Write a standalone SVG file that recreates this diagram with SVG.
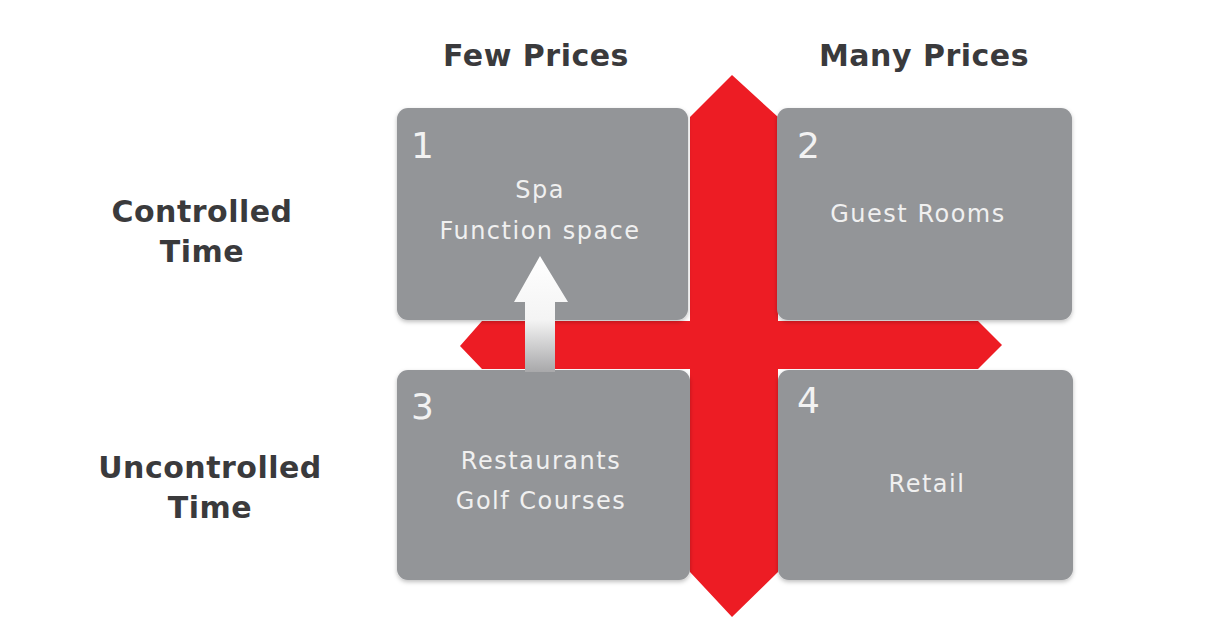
<svg xmlns="http://www.w3.org/2000/svg" width="1206" height="635" viewBox="0 0 1206 635">
<style>
.hdr{font-family:"DejaVu Sans",sans-serif;font-weight:bold;font-size:30px;letter-spacing:0.5px;fill:#3a3a3c;text-anchor:middle}
.box{fill:#939598}
.num{font-family:"DejaVu Sans",sans-serif;font-size:36px;fill:#f2f2f2}
.lbl{font-family:"DejaVu Sans",sans-serif;font-size:24px;letter-spacing:1.5px;fill:#f0f0f0;text-anchor:middle}
</style>
<defs>
<linearGradient id="wg" x1="0" y1="0" x2="0" y2="1">
<stop offset="0" stop-color="#ffffff"/>
<stop offset="0.55" stop-color="#f4f4f4"/>
<stop offset="1" stop-color="#a8a8aa"/>
</linearGradient>
<filter id="sh" x="-5%" y="-5%" width="110%" height="115%">
<feDropShadow dx="0" dy="2" stdDeviation="2" flood-color="#000" flood-opacity="0.25"/>
</filter>
</defs>
<rect width="1206" height="635" fill="#ffffff"/>
<g id="connectors">
<polygon id="cross" fill="#ed1c24" points="732,75 778,117 778,321 978,321 1002,345 978,369 778,369 778,572 732,617 690,572 690,369 482,369 460,346 482,321 690,321 690,117"/>
</g>
<g id="headers">
<text class="hdr" x="536" y="66">Few Prices</text>
<text class="hdr" x="924" y="66">Many Prices</text>
<text class="hdr" x="202" y="222">Controlled</text>
<text class="hdr" x="202" y="262">Time</text>
<text class="hdr" x="210" y="478">Uncontrolled</text>
<text class="hdr" x="210" y="518">Time</text>
</g>
<g id="node1">
<rect class="box" x="397" y="108" width="291" height="212" rx="11" filter="url(#sh)"/>
<text class="num" x="411" y="158">1</text>
<text class="lbl" x="540" y="198">Spa</text>
<text class="lbl" x="540" y="239">Function space</text>
</g>
<g id="node2">
<rect class="box" x="777" y="108" width="295" height="212" rx="11" filter="url(#sh)"/>
<text class="num" x="797" y="158">2</text>
<text class="lbl" x="918" y="222">Guest Rooms</text>
</g>
<g id="node3">
<rect class="box" x="397" y="370" width="293" height="210" rx="11" filter="url(#sh)"/>
<text class="num" x="411" y="419">3</text>
<text class="lbl" x="541" y="469">Restaurants</text>
<text class="lbl" x="541" y="509">Golf Courses</text>
</g>
<g id="node4">
<rect class="box" x="778" y="370" width="295" height="210" rx="11" filter="url(#sh)"/>
<text class="num" x="797" y="413">4</text>
<text class="lbl" x="927" y="492">Retail</text>
</g>
<g id="arrow">
<polygon fill="url(#wg)" points="540,256 568,302 555,302 555,372 525,372 525,302 514,302"/>
</g>
</svg>
